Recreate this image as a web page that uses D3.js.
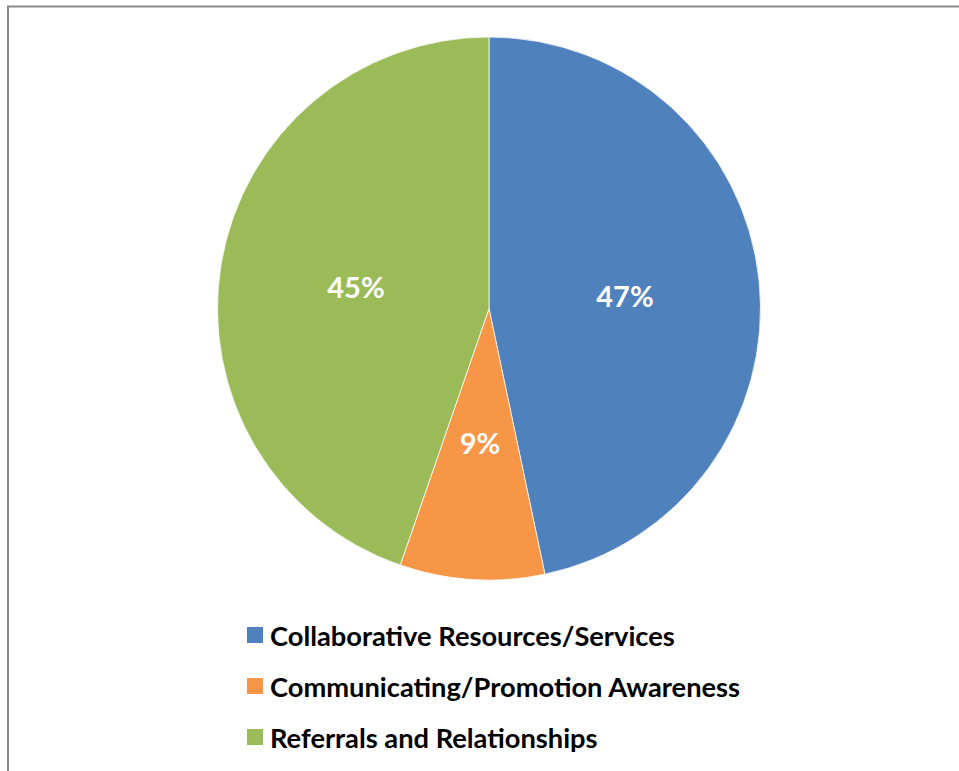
<!DOCTYPE html>
<html>
<head>
<meta charset="utf-8">
<script src="https://cdn.jsdelivr.net/npm/d3@7"></script>
<style>
  html, body { margin: 0; padding: 0; background: #fff; overflow: hidden; }
  svg { display: block; }
</style>
</head>
<body>
<svg id="chart" width="959" height="771"></svg>
<script>
const categories = ["Collaborative Resources/Services", "Communicating/Promotion Awareness", "Referrals and Relationships"];
const values = [46.7, 8.6, 44.7];
const colors = ["#4F81BD", "#F79646", "#9BBB59"];

const svg = d3.select("#chart");
const fontFamily = "Lato, 'Open Sans', 'DejaVu Sans', sans-serif";

// chart area border (extends past right/bottom edges)
svg.append("rect")
  .attr("x", 8).attr("y", 6.5)
  .attr("width", 1000).attr("height", 1000)
  .attr("fill", "#fff")
  .attr("stroke", "#8a8a8a")
  .attr("stroke-width", 2);

const cx = 489, cy = 308.5, R = 271.5;
const total = d3.sum(values);
const pie = d3.pie().sort(null).value(d => d)(values);
const arc = d3.arc().innerRadius(0).outerRadius(R);

const g = svg.append("g").attr("transform", `translate(${cx},${cy})`);
g.selectAll("path.slice")
  .data(pie)
  .join("path")
  .attr("class", "slice")
  .attr("d", arc)
  .attr("fill", (d, i) => colors[i])
  .attr("stroke", "#fff")
  .attr("stroke-width", 0.75);

const fmt = d3.format(".0%");
const labelPos = [[136, -13], [-9, 134], [-133, -22]];
g.selectAll("text.pct")
  .data(pie)
  .join("text")
  .attr("class", "pct")
  .attr("x", (d, i) => labelPos[i][0])
  .attr("y", (d, i) => labelPos[i][1])
  .attr("text-anchor", "middle")
  .attr("dominant-baseline", "central")
  .attr("fill", "#fff")
  .attr("font-family", fontFamily)
  .attr("font-weight", "bold")
  .attr("font-size", 29)
  .text(d => fmt(d.value / total));

// legend
const legend = svg.append("g");
const rowY = d3.scalePoint().domain(categories).range([635, 737]);
const items = legend.selectAll("g.item")
  .data(categories)
  .join("g")
  .attr("class", "item")
  .attr("transform", d => `translate(247,${rowY(d)})`);
items.append("rect")
  .attr("x", 0).attr("y", -8)
  .attr("width", 16).attr("height", 16)
  .attr("fill", (d, i) => colors[i]);
const lt = items.append("text")
  .attr("x", 23)
  .attr("y", 0)
  .attr("dominant-baseline", "central")
  .attr("fill", "#000")
  .attr("font-family", fontFamily)
  .attr("font-weight", "bold")
  .attr("font-size", 26)
  .text(d => d);

// fit legend font to the reference text width
const w0 = lt.nodes()[0].getComputedTextLength();
const fs = 26 * 405 / w0;
lt.attr("font-size", fs);
</script>
</body>
</html>
